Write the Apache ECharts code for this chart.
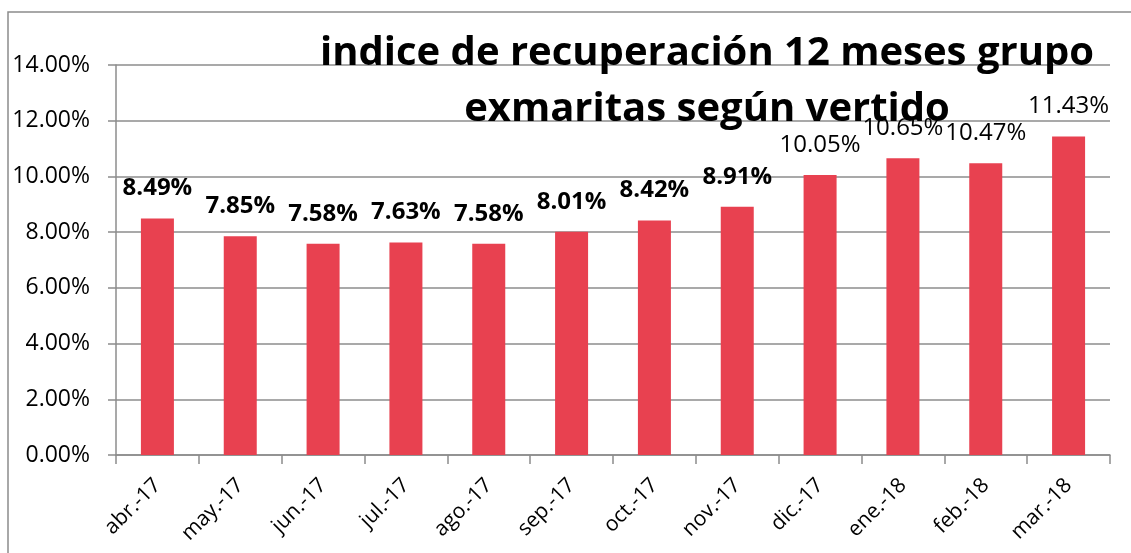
<!DOCTYPE html>
<html>
<head>
<meta charset="utf-8">
<script src="https://cdn.jsdelivr.net/npm/echarts@6/dist/echarts.min.js"></script>
<style>
  html, body { margin: 0; padding: 0; background: #fff; }
  #chart { width: 1131px; height: 553px; }
</style>
</head>
<body>
<div id="chart"></div>
<script>
// meses (eje x)
var months = ['abr.-17', 'may.-17', 'jun.-17', 'jul.-17', 'ago.-17', 'sep.-17',
  'oct.-17', 'nov.-17', 'dic.-17', 'ene.-18', 'feb.-18', 'mar.-18']
// indice de recuperacion (%)
var values = [8.49, 7.85, 7.58, 7.63, 7.58, 8.01, 8.42, 8.91, 10.05, 10.65, 10.47, 11.43]
// etiquetas en negrita (las primeras ocho)
var boldLabel = [true, true, true, true, true, true, true, true, false, false, false, false]

var font = '"Open Sans", "Liberation Sans", sans-serif'
var gridColor = '#8c8c8c'

var chart = echarts.init(document.getElementById('chart'))
var option = {
  animation: false,
  title: {
    text: 'indice de recuperación 12 meses grupo\nexmaritas según vertido',
    left: 702,
    top: 21,
    textAlign: 'center',
    textStyle: {
      fontFamily: font,
      fontWeight: 'bold',
      fontSize: 40,
      lineHeight: 56,
      color: '#000'
    }
  },
  graphic: [{
    type: 'rect',
    shape: { x: 8, y: 12, width: 1300, height: 700 },
    style: { fill: 'none', stroke: gridColor, lineWidth: 1.5 },
    z: -1
  }],
  grid: { left: 116, right: 21, top: 65, bottom: 98 },
  xAxis: {
    type: 'category',
    data: months,
    axisLine: { lineStyle: { color: gridColor, width: 1.5 } },
    axisTick: { show: true, length: 9, lineStyle: { color: gridColor, width: 1.5 } },
    axisLabel: {
      rotate: 45,
      margin: 27,
      fontFamily: font,
      fontSize: 21,
      color: '#000'
    }
  },
  yAxis: {
    type: 'value',
    min: 0,
    max: 14,
    interval: 2,
    axisLine: { show: true, lineStyle: { color: gridColor, width: 1.5 } },
    axisTick: { show: true, length: 8, lineStyle: { color: gridColor, width: 1.5 } },
    splitLine: { lineStyle: { color: gridColor, width: 1.5 } },
    axisLabel: {
      margin: 26,
      fontFamily: font,
      fontSize: 23,
      color: '#000',
      formatter: function (v) { return v.toFixed(2) + '%' }
    }
  },
  series: [{
    type: 'bar',
    barWidth: 33,
    data: values.map(function (v, i) {
      return {
        value: v,
        label: { fontWeight: boldLabel[i] ? 'bold' : 'normal' }
      }
    }),
    itemStyle: { color: '#E84150' },
    label: {
      show: true,
      position: 'top',
      distance: 18,
      fontFamily: font,
      fontSize: 24,
      color: '#000',
      formatter: function (p) { return p.value.toFixed(2) + '%' }
    }
  }]
}
chart.setOption(option)
</script>
</body>
</html>
